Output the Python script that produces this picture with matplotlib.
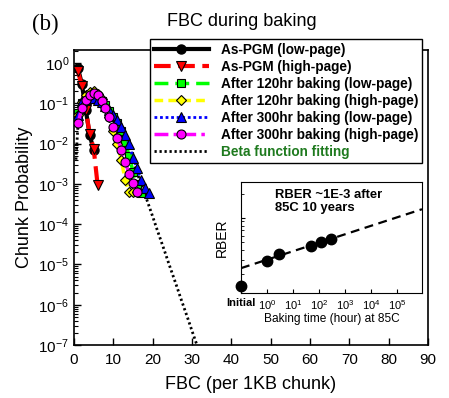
import numpy as np
import matplotlib
matplotlib.use("Agg")
import matplotlib.pyplot as plt
from matplotlib.ticker import LogLocator, NullFormatter, FixedLocator

plt.rcParams['font.family'] = ['Liberation Sans', 'DejaVu Sans']
plt.rcParams['mathtext.default'] = 'regular'

# As-PGM distributions
fbc_pgm_low = [1, 2, 3, 4, 5]
p_pgm_low = [0.75, 0.3, 0.068, 0.016, 0.007]
fbc_pgm_high = [1, 2, 3, 4, 5, 6]
p_pgm_high = [0.62, 0.27, 0.07, 0.017, 0.0075, 0.00095]

# baking distributions, stored as log10 of probability
fbc_120_low = list(range(1, 18))
log_120_low = [-1.25, -1.0, -0.9, -0.86, -0.85, -0.88, -0.95, -1.05, -1.18, -1.33,
               -1.5, -1.7, -1.95, -2.3, -2.7, -3.0, -3.22]
fbc_120_high = list(range(1, 17))
log_120_high = [-1.3, -0.97, -0.8, -0.72, -0.7, -0.78, -0.9, -1.1, -1.35, -1.7,
                -2.0, -2.4, -2.9, -3.2, -3.2, -3.2]
fbc_300_low = list(range(1, 20))
log_300_low = [-1.3, -0.95, -0.9, -0.87, -0.88, -0.92, -0.98, -1.06, -1.16, -1.28,
               -1.42, -1.58, -1.78, -2.02, -2.35, -2.6, -2.9, -3.1, -3.22]
fbc_300_high = list(range(1, 17))
log_300_high = [-1.5, -1.12, -0.92, -0.8, -0.75, -0.8, -0.95, -1.12, -1.35, -1.6,
                -1.85, -2.15, -2.45, -2.75, -2.98, -3.2]

# beta function fit
fbc_beta = [0.5] + list(range(1, 33))
log_beta = [-2.4, -1.55, -1.05, -0.85, -0.8, -0.82, -0.88, -0.98, -1.1, -1.24, -1.4,
            -1.58, -1.78, -2.0, -2.23, -2.47, -2.72, -2.98, -3.25, -3.53, -3.81,
            -4.1, -4.38, -4.66, -4.95, -5.23, -5.51, -5.8, -6.08, -6.36, -6.65,
            -6.93, -7.2]

# inset: RBER vs baking time ("Initial" sits at 0.1 h)
bake_hours = [0.1, 1, 3, 50, 120, 280]
rber = [1.4e-4, 2.9e-4, 3.5e-4, 4.5e-4, 5.0e-4, 5.5e-4]
fit_hours = [0.1, 9e5]
fit_rber = [2.35e-4, 1.28e-3]
inset_ticks = [0.1, 1, 10, 100, 1e3, 1e4, 1e5]
inset_labels = ['Initial', '$10^0$', '$10^1$', '$10^2$', '$10^3$', '$10^4$', '$10^5$']

fig = plt.figure(figsize=(4.49, 3.98), dpi=100)
ax = fig.add_axes([74 / 449, 53 / 398, 354 / 449, 295 / 398])

def tolin(v):
    return [10 ** e for e in v]

ax.plot(fbc_pgm_low, p_pgm_low, '-', color='black', lw=3, marker='o', ms=6.5,
        mfc='black', mec='black', label='As-PGM (low-page)', zorder=3)
ax.plot(fbc_pgm_high, p_pgm_high, color='red', lw=3, dashes=(4, 1.8), marker='v',
        ms=7, mfc='red', mec='black', mew=0.8, label='As-PGM (high-page)', zorder=4)
ax.plot(fbc_120_low, tolin(log_120_low), color='#00ff00', lw=2.5, dashes=(4, 2),
        marker='s', ms=6, mfc='#00ff00', mec='black', mew=0.8,
        label='After 120hr baking (low-page)', zorder=5)
ax.plot(fbc_120_high, tolin(log_120_high), color='yellow', lw=2.5, dashes=(2.5, 1.5),
        marker='D', ms=5.5, mfc='yellow', mec='black', mew=0.8,
        label='After 120hr baking (high-page)', zorder=6)
ax.plot(fbc_300_low, tolin(log_300_low), color='blue', lw=2, dashes=(1, 1),
        marker='^', ms=7, mfc='blue', mec='black', mew=0.8,
        label='After 300hr baking (low-page)', zorder=7)
ax.plot(fbc_300_high, tolin(log_300_high), color='magenta', lw=2.5,
        dashes=(4, 1.5, 1, 1.5), marker='o', ms=6.5, mfc='magenta', mec='black',
        mew=0.8, label='After 300hr baking (high-page)', zorder=8)
ax.plot(fbc_beta, tolin(log_beta), color='black', lw=2, dashes=(0.8, 1),
        label='Beta function fitting', zorder=2)

ax.set_yscale('log')
ax.set_xlim(0, 90)
ax.set_ylim(1e-7, 2.1)
ax.set_xticks(range(0, 91, 10))
ax.yaxis.set_major_locator(LogLocator(base=10, numticks=20))
ax.yaxis.set_minor_locator(LogLocator(base=10, subs=np.arange(2, 10), numticks=20))
ax.yaxis.set_minor_formatter(NullFormatter())
ax.tick_params(which='both', direction='in', labelsize=11)
ax.tick_params(which='major', length=5, width=1)
ax.tick_params(which='minor', length=3, width=0.8)
ax.tick_params(axis='x', pad=6)
for s in ax.spines.values():
    s.set_linewidth(1.2)
ax.set_xlabel('FBC (per 1KB chunk)', fontsize=13, labelpad=6)
ax.set_ylabel('Chunk Probability', fontsize=13, labelpad=4)

leg = ax.legend(loc='upper left', bbox_to_anchor=(0.215, 1.037),
                prop={'weight': 'bold', 'size': 9.8}, handlelength=4.0,
                handletextpad=0.9, labelspacing=0.22, borderpad=0.3,
                borderaxespad=0, fancybox=False, framealpha=1, edgecolor='black')
leg.get_frame().set_linewidth(1)
leg.set_zorder(20)
leg.get_texts()[-1].set_color('#1e7a1e')

fig.text(242 / 449, 1 - 21 / 398, 'FBC during baking', ha='center', va='center',
         fontsize=13)
fig.text(45 / 449, 1 - 24 / 398, '(b)', ha='center', va='center', fontsize=16.5,
         family='Liberation Serif')

# inset
ins = fig.add_axes([241 / 449, 105 / 398, 181 / 449, 111 / 398])
ins.set_zorder(25)
ins.plot(fit_hours, fit_rber, color='black', lw=1.6, dashes=(4, 2.5))
ins.plot(bake_hours, rber, 'o', color='black', ms=7.5, clip_on=False, zorder=5)
ins.set_xscale('log')
ins.set_yscale('log')
ins.set_xlim(0.1, 9e5)
ins.set_ylim(1.15e-4, 2.8e-3)
ins.xaxis.set_major_locator(FixedLocator(inset_ticks))
ins.set_xticklabels(inset_labels)
ins.xaxis.set_minor_locator(FixedLocator([]))
ins.get_xticklabels()[0].set_fontweight('bold')
ins.get_xticklabels()[0].set_fontsize(7)
ins.yaxis.set_minor_formatter(NullFormatter())
ins.yaxis.set_major_formatter(NullFormatter())
ins.tick_params(which='both', direction='in', labelsize=8, top=False, right=False)
ins.tick_params(which='major', length=3)
ins.tick_params(which='minor', length=2)
ins.set_xlabel('Baking time (hour) at 85C', fontsize=8.6, labelpad=1)
ins.set_ylabel('RBER', fontsize=10, labelpad=5)
ins.text(0.19, 0.94, 'RBER ~1E-3 after\n85C 10 years', transform=ins.transAxes,
         ha='left', va='top', fontsize=9.4, fontweight='bold', linespacing=1.15)

fig.savefig('out.png', dpi=100)
